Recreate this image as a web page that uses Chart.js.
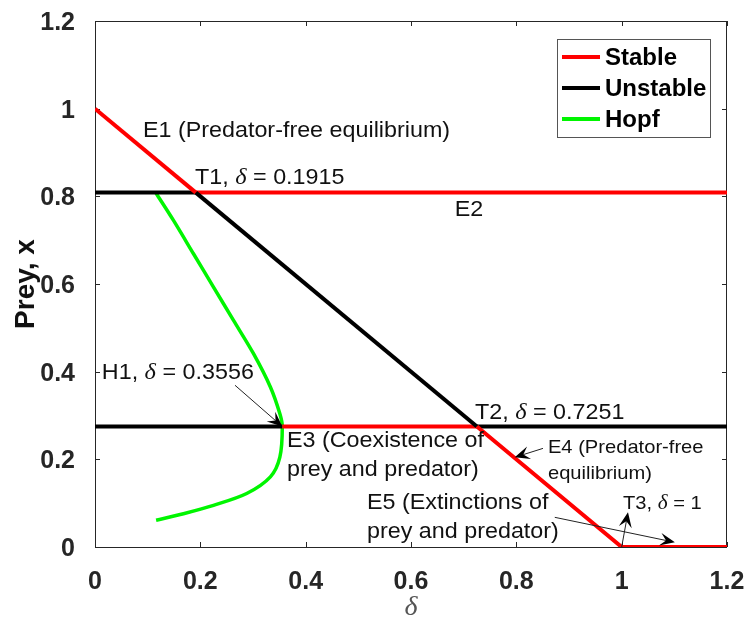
<!DOCTYPE html>
<html>
<head>
<meta charset="utf-8">
<script src="https://cdn.jsdelivr.net/npm/chart.js@4.4.0/dist/chart.umd.min.js"></script>
<style>
  body { margin: 0; background: #fff; }
  canvas { display: block; }
</style>
</head>
<body>
<canvas id="bif" width="747" height="622"></canvas>
<script>
// axis ticks
const xTicks = [0, 0.2, 0.4, 0.6, 0.8, 1, 1.2];
const yTicks = [0, 0.2, 0.4, 0.6, 0.8, 1, 1.2];

// equilibrium branches (x = prey) vs delta, stability per segment
const e1Delta = [0, 0.1915, 0.7251, 1, 1.2];
const e1Prey = [1, 0.8085, 0.2749, 0, 0];
const e1Stable = [true, false, true, true];

const e2Delta = [0, 0.1915, 1.2];
const e2Prey = [0.8085, 0.8085, 0.8085];
const e2Stable = [false, true];

const e3Delta = [0, 0.3556, 0.7251, 1.2];
const e3Prey = [0.2749, 0.2749, 0.2749, 0.2749];
const e3Stable = [false, true, false];

// Hopf curve
const hopfDelta = [0.116, 0.149, 0.187, 0.225, 0.263, 0.301, 0.333, 0.351, 0.3556, 0.351, 0.333, 0.288, 0.225, 0.168, 0.116];
const hopfPrey = [0.807, 0.745, 0.669, 0.593, 0.517, 0.441, 0.365, 0.304, 0.2749, 0.205, 0.160, 0.122, 0.095, 0.076, 0.061];

const legendLabels = ['Stable', 'Unstable', 'Hopf'];

const colors = { stable: '#ff0000', unstable: '#000000', hopf: '#00f500', axis: '#262626', text: '#111' };
const sansFont = '"Liberation Sans", Arial, sans-serif';
const serifFont = '"Liberation Serif", "Times New Roman", serif';

function toPoints(xs, ys) {
  return xs.map((x, i) => ({ x, y: ys[i] }));
}

function branch(label, xs, ys, stable) {
  return {
    label,
    data: toPoints(xs, ys),
    showLine: true,
    pointRadius: 0,
    borderWidth: 4,
    borderColor: colors.stable,
    segment: {
      borderColor: ctx => stable[ctx.p0DataIndex] ? colors.stable : colors.unstable
    }
  };
}

// text labels and arrows, placed in data coordinates
const notes = [
  { x: 0.091, y: 0.950, size: 22, parts: [['E1 (Predator-free equilibrium)']] },
  { x: 0.190, y: 0.843, size: 22, parts: [['T1, '], ['δ', true], [' = 0.1915']] },
  { x: 0.683, y: 0.768, size: 22, parts: [['E2']] },
  { x: 0.013, y: 0.396, size: 22, parts: [['H1, '], ['δ', true], [' = 0.3556']] },
  { x: 0.3645, y: 0.243, size: 22, parts: [['E3 (Coexistence of']] },
  { x: 0.3645, y: 0.175, size: 22, parts: [['prey and predator)']] },
  { x: 0.5164, y: 0.0997, size: 22, parts: [['E5 (Extinctions of']] },
  { x: 0.5164, y: 0.0335, size: 22, parts: [['prey and predator)']] },
  { x: 0.7215, y: 0.305, size: 22, parts: [['T2, '], ['δ', true], [' = 0.7251']] },
  { x: 0.860, y: 0.2274, size: 19, parts: [['E4 (Predator-free']] },
  { x: 0.860, y: 0.168, size: 19, parts: [['equilibrium)']] },
  { x: 1.0025, y: 0.0997, size: 19, parts: [['T3, '], ['δ', true], [' = 1']] }
];

const arrows = [
  { from: [0.2658, 0.369], to: [0.3556, 0.2749] },
  { from: [0.8506, 0.225], to: [0.797, 0.2046] },
  { from: [1.0, 0.0], to: [1.012, 0.079] },
  { from: [0.873, 0.0677], to: [1.101, 0.0107] }
];

function drawRich(ctx, parts, x, y, size) {
  const sx = 1.06;
  ctx.save();
  ctx.translate(x, y);
  ctx.scale(sx, 1);
  ctx.textBaseline = 'middle';
  ctx.textAlign = 'left';
  ctx.fillStyle = colors.text;
  let cx = 0;
  parts.forEach(([txt, italic]) => {
    ctx.font = italic ? `italic ${size + 1}px ${serifFont}` : `${size}px ${sansFont}`;
    ctx.fillText(txt, cx, 0);
    cx += ctx.measureText(txt).width;
  });
  ctx.restore();
}

function drawArrow(ctx, x0, y0, x1, y1) {
  const ang = Math.atan2(y1 - y0, x1 - x0);
  const len = 15, half = 6.5, notch = 9;
  ctx.save();
  ctx.strokeStyle = '#222';
  ctx.lineWidth = 1;
  ctx.beginPath();
  ctx.moveTo(x0, y0);
  ctx.lineTo(x1 - Math.cos(ang) * notch, y1 - Math.sin(ang) * notch);
  ctx.stroke();
  ctx.translate(x1, y1);
  ctx.rotate(ang);
  ctx.fillStyle = '#000';
  ctx.beginPath();
  ctx.moveTo(0, 0);
  ctx.lineTo(-len, -half);
  ctx.lineTo(-notch, 0);
  ctx.lineTo(-len, half);
  ctx.closePath();
  ctx.fill();
  ctx.restore();
}

const frame = {
  id: 'frame',
  beforeDatasetsDraw(chart) {
    const { ctx, chartArea: a, scales: { x, y } } = chart;
    ctx.save();
    ctx.strokeStyle = colors.axis;
    ctx.lineWidth = 1;
    ctx.strokeRect(a.left + 0.5, a.top + 0.5, a.right - a.left - 1, a.bottom - a.top);
    ctx.beginPath();
    xTicks.forEach(v => {
      const px = Math.round(x.getPixelForValue(v)) + 0.5;
      ctx.moveTo(px, a.bottom); ctx.lineTo(px, a.bottom - 5);
      ctx.moveTo(px, a.top); ctx.lineTo(px, a.top + 5);
    });
    yTicks.forEach(v => {
      const py = Math.round(y.getPixelForValue(v)) + 0.5;
      ctx.moveTo(a.left, py); ctx.lineTo(a.left + 5, py);
      ctx.moveTo(a.right, py); ctx.lineTo(a.right - 5, py);
    });
    ctx.stroke();
    ctx.restore();
  },
  afterDatasetsDraw(chart) {
    const { ctx, chartArea: a, scales: { x, y } } = chart;
    notes.forEach(n => drawRich(ctx, n.parts, x.getPixelForValue(n.x), y.getPixelForValue(n.y), n.size));
    arrows.forEach(ar => drawArrow(ctx,
      x.getPixelForValue(ar.from[0]), y.getPixelForValue(ar.from[1]),
      x.getPixelForValue(ar.to[0]), y.getPixelForValue(ar.to[1])));

    // legend box, top right
    const bx = a.right - 170, by = a.top + 18, bw = 153, bh = 98;
    const swatch = [colors.stable, colors.unstable, colors.hopf];
    ctx.save();
    ctx.fillStyle = '#fff';
    ctx.fillRect(bx, by, bw, bh);
    ctx.strokeStyle = '#555';
    ctx.lineWidth = 1;
    ctx.strokeRect(bx + 0.5, by + 0.5, bw, bh);
    ctx.font = `bold 24px ${sansFont}`;
    ctx.textBaseline = 'middle';
    legendLabels.forEach((lab, i) => {
      const ly = by + 18 + i * 31;
      ctx.strokeStyle = swatch[i];
      ctx.lineWidth = 4;
      ctx.beginPath();
      ctx.moveTo(bx + 5, ly); ctx.lineTo(bx + 43, ly);
      ctx.stroke();
      ctx.fillStyle = '#000';
      ctx.fillText(lab, bx + 48, ly + 1);
    });
    ctx.restore();
  }
};

const tickFont = { family: sansFont, size: 25, weight: 'bold' };

new Chart(document.getElementById('bif'), {
  type: 'scatter',
  data: {
    datasets: [
      branch('E1', e1Delta, e1Prey, e1Stable),
      branch('E2', e2Delta, e2Prey, e2Stable),
      branch('E3', e3Delta, e3Prey, e3Stable),
      {
        label: 'Hopf',
        data: toPoints(hopfDelta, hopfPrey),
        showLine: true,
        pointRadius: 0,
        borderWidth: 3.5,
        borderColor: colors.hopf,
        tension: 0.3
      }
    ]
  },
  options: {
    responsive: false,
    animation: false,
    layout: { padding: { top: 21, right: 20, left: 0, bottom: 0 } },
    plugins: { legend: { display: false }, tooltip: { enabled: false } },
    scales: {
      x: {
        type: 'linear', min: 0, max: 1.2,
        afterBuildTicks: s => { s.ticks = xTicks.map(v => ({ value: v })); },
        afterFit: s => { s.height = 75; s.paddingLeft = 0; s.paddingRight = 0; },
        grid: { display: false },
        border: { display: false },
        ticks: { font: tickFont, color: colors.axis, padding: 12, maxRotation: 0, callback: v => String(v) },
        title: { display: true, text: 'δ', color: '#555', font: { family: serifFont, size: 28, style: 'italic' }, padding: { top: 0, bottom: -2 } }
      },
      y: {
        type: 'linear', min: 0, max: 1.2,
        afterBuildTicks: s => { s.ticks = yTicks.map(v => ({ value: v })); },
        afterFit: s => { s.width = 95; s.paddingTop = 0; s.paddingBottom = 0; },
        grid: { display: false },
        border: { display: false },
        ticks: { font: tickFont, color: colors.axis, padding: 12, labelOffset: 2, callback: v => String(v) },
        title: { display: true, text: 'Prey, x', color: '#111', font: { family: sansFont, size: 28, weight: 'bold' }, padding: { top: 9, bottom: 0 } }
      }
    }
  },
  plugins: [frame]
});
</script>
</body>
</html>
